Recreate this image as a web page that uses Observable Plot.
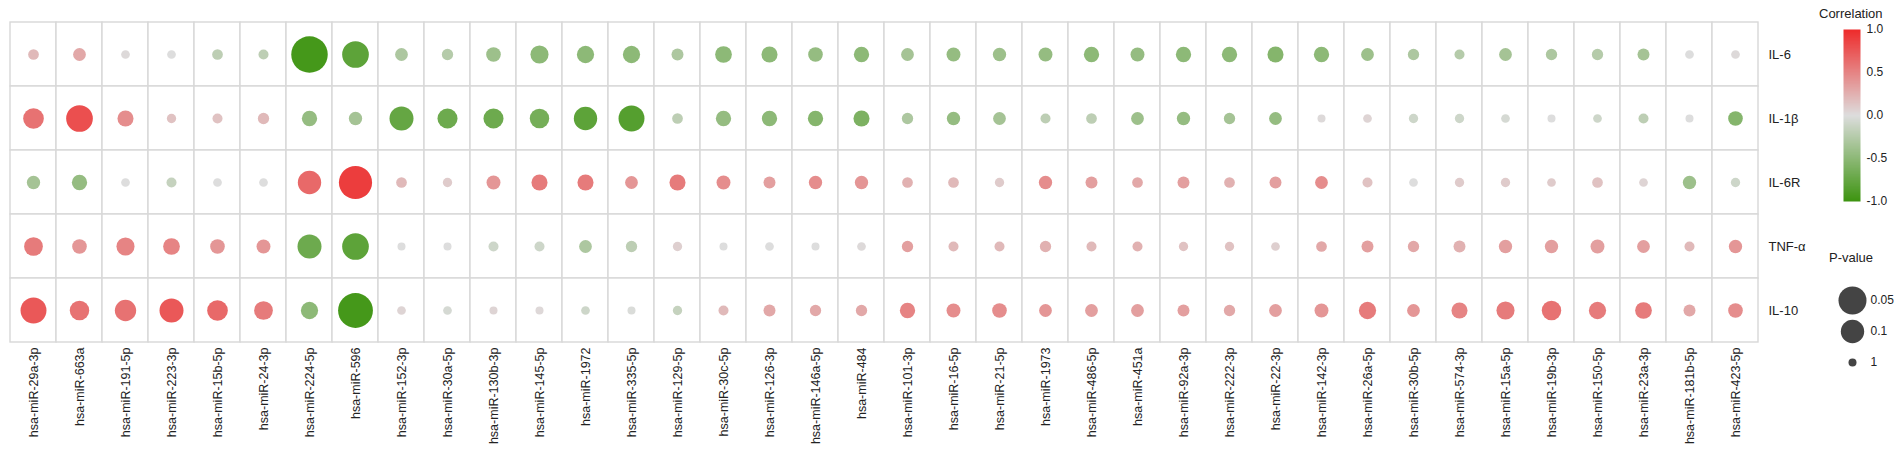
<!DOCTYPE html>
<html>
<head>
<meta charset="utf-8">
<script src="https://cdn.jsdelivr.net/npm/d3@7"></script>
<script src="https://cdn.jsdelivr.net/npm/@observablehq/plot@0.6"></script>
<style>
  html, body { margin: 0; padding: 0; background: #fff; }
  #wrap { position: relative; width: 1901px; height: 449px; overflow: hidden; font-family: "Liberation Sans", Arial, sans-serif; }
  #wrap > * { position: absolute; }
  #wrap svg { overflow: visible; }
  .ttl { font-size: 13px; color: #222; white-space: nowrap; }
</style>
</head>
<body>
<div id="wrap"></div>
<script>
const mirnas = ["hsa-miR-29a-3p","hsa-miR-663a","hsa-miR-191-5p","hsa-miR-223-3p","hsa-miR-15b-5p","hsa-miR-24-3p","hsa-miR-224-5p","hsa-miR-596","hsa-miR-152-3p","hsa-miR-30a-5p","hsa-miR-130b-3p","hsa-miR-145-5p","hsa-miR-1972","hsa-miR-335-5p","hsa-miR-129-5p","hsa-miR-30c-5p","hsa-miR-126-3p","hsa-miR-146a-5p","hsa-miR-484","hsa-miR-101-3p","hsa-miR-16-5p","hsa-miR-21-5p","hsa-miR-1973","hsa-miR-486-5p","hsa-miR-451a","hsa-miR-92a-3p","hsa-miR-222-3p","hsa-miR-22-3p","hsa-miR-142-3p","hsa-miR-26a-5p","hsa-miR-30b-5p","hsa-miR-574-3p","hsa-miR-15a-5p","hsa-miR-19b-3p","hsa-miR-150-5p","hsa-miR-23a-3p","hsa-miR-181b-5p","hsa-miR-423-5p"];
const cytokines = ["IL-6","IL-1β","IL-6R","TNF-α","IL-10"];

const corrIL6  = [0.2,0.3,0.02,0.0,-0.2,-0.2,-0.95,-0.8,-0.3,-0.25,-0.4,-0.5,-0.5,-0.5,-0.3,-0.5,-0.5,-0.45,-0.5,-0.35,-0.45,-0.4,-0.45,-0.5,-0.45,-0.5,-0.5,-0.55,-0.5,-0.4,-0.3,-0.25,-0.35,-0.3,-0.25,-0.35,0.0,0.02];
const pIL6     = [0.67,0.49,0.90,0.90,0.67,0.74,0.014,0.061,0.49,0.61,0.37,0.22,0.25,0.25,0.55,0.27,0.30,0.37,0.335,0.49,0.41,0.45,0.41,0.335,0.41,0.335,0.335,0.30,0.335,0.49,0.61,0.74,0.49,0.61,0.61,0.55,0.90,0.90];

const corrIL1b = [0.6,0.8,0.45,0.15,0.15,0.2,-0.45,-0.35,-0.75,-0.7,-0.7,-0.65,-0.8,-0.85,-0.2,-0.45,-0.5,-0.55,-0.6,-0.3,-0.45,-0.35,-0.2,-0.2,-0.4,-0.45,-0.35,-0.45,0.02,0.05,-0.1,-0.1,-0.05,0.0,-0.1,-0.2,0.0,-0.55];
const pIL1b    = [0.15,0.061,0.30,0.82,0.74,0.61,0.335,0.45,0.091,0.165,0.165,0.18,0.10,0.068,0.67,0.335,0.335,0.335,0.30,0.61,0.45,0.49,0.74,0.67,0.49,0.45,0.61,0.49,1,0.90,0.82,0.82,0.90,1,0.90,0.74,1,0.37];

const corrIL6R = [-0.35,-0.45,0.0,-0.15,0.0,0.0,0.65,0.9,0.2,0.1,0.4,0.55,0.55,0.4,0.55,0.45,0.35,0.45,0.4,0.25,0.2,0.1,0.45,0.35,0.3,0.35,0.25,0.35,0.45,0.15,0.0,0.1,0.1,0.1,0.15,0.05,-0.4,-0.1];
const pIL6R    = [0.45,0.335,0.90,0.74,0.90,0.90,0.10,0.023,0.67,0.82,0.41,0.30,0.30,0.49,0.30,0.41,0.55,0.45,0.45,0.67,0.67,0.82,0.45,0.55,0.67,0.55,0.67,0.55,0.49,0.74,0.90,0.82,0.82,0.90,0.67,0.90,0.45,0.82];

const corrTNFa = [0.55,0.4,0.5,0.5,0.4,0.4,-0.7,-0.8,0.0,0.0,-0.1,-0.1,-0.3,-0.2,0.08,0.0,0.0,0.0,0.02,0.35,0.2,0.2,0.25,0.2,0.25,0.15,0.15,0.08,0.3,0.35,0.3,0.25,0.35,0.35,0.35,0.35,0.2,0.4];
const pTNFa    = [0.20,0.37,0.22,0.27,0.37,0.41,0.091,0.061,1,1,0.74,0.74,0.49,0.61,0.82,1,0.90,1,0.90,0.61,0.74,0.74,0.61,0.74,0.74,0.82,0.82,0.90,0.67,0.55,0.61,0.55,0.45,0.45,0.41,0.49,0.74,0.45];

const corrIL10 = [0.75,0.6,0.6,0.75,0.65,0.55,-0.5,-0.95,0.05,-0.05,0.05,0.03,-0.1,-0.02,-0.15,0.2,0.3,0.3,0.3,0.5,0.45,0.45,0.4,0.35,0.35,0.35,0.3,0.35,0.4,0.55,0.4,0.5,0.55,0.6,0.55,0.55,0.3,0.45];
const pIL10    = [0.068,0.18,0.136,0.091,0.15,0.20,0.25,0.018,0.90,0.90,1,1,0.90,1,0.82,0.74,0.55,0.61,0.61,0.335,0.41,0.37,0.49,0.49,0.49,0.55,0.61,0.49,0.41,0.25,0.49,0.30,0.22,0.18,0.25,0.27,0.55,0.37];

const colorTicks = [-1, -0.5, 0, 0.5, 1];
const pLegend = [0.05, 0.1, 1];

const corrRows = [corrIL6, corrIL1b, corrIL6R, corrTNFa, corrIL10];
const pRows = [pIL6, pIL1b, pIL6R, pTNFa, pIL10];
const cells = [];
cytokines.forEach((c, i) => mirnas.forEach((m, j) => cells.push({mirna: m, cytokine: c, corr: corrRows[i][j], p: pRows[i][j]})));

const colorScale = {type: "linear", domain: [-1, 0, 1], range: ["#3d9410", "#dddddd", "#ee2b2b"], interpolate: "rgb"};
const rScale = {type: "log", domain: [1, 0.05], range: [4, 14]};
const font = {fontFamily: "'Liberation Sans', Arial, sans-serif", background: "transparent", color: "#222", overflow: "visible"};

const wrap = document.getElementById("wrap");

const main = Plot.plot({
  width: 1901, height: 449,
  marginLeft: 6, marginRight: 140, marginTop: 21, marginBottom: 107,
  style: {...font, fontSize: "12.5px"},
  x: {domain: mirnas, padding: 0, label: null, tickRotate: -90, tickSize: 0, tickPadding: 5},
  y: {domain: cytokines, padding: 0, label: null, axis: "right", tickSize: 0, tickPadding: 7},
  color: colorScale,
  r: rScale,
  marks: [
    Plot.cell(cells, {x: "mirna", y: "cytokine", fill: "white", stroke: "#d8d8d8", strokeWidth: 1.4}),
    Plot.dot(cells, {x: "mirna", y: "cytokine", r: "p", fill: "corr", stroke: "none"})
  ]
});
main.style.left = "0px"; main.style.top = "0px";
main.querySelectorAll("g[aria-label='y-axis tick label'] text").forEach(t => t.style.fontSize = "13px");
wrap.appendChild(main);

const title1 = document.createElement("div");
title1.className = "ttl"; title1.textContent = "Correlation";
title1.style.left = "1819px"; title1.style.top = "6px";
wrap.appendChild(title1);

const bar = Plot.plot({
  width: 56, height: 182,
  marginLeft: 0, marginRight: 39, marginTop: 5, marginBottom: 5,
  style: {...font, fontSize: "12px"},
  x: {domain: [0, 1], axis: null},
  y: {domain: [-1, 1], ticks: colorTicks, tickFormat: d => d.toFixed(1), axis: "right", tickSize: 0, tickPadding: 6, label: null},
  color: colorScale,
  marks: [
    Plot.raster({fill: (x, y) => y, x1: 0, x2: 1, y1: -1, y2: 1, width: 2, height: 200, imageRendering: "auto"})
  ]
});
bar.style.left = "1843px"; bar.style.top = "24px";
wrap.appendChild(bar);

const title2 = document.createElement("div");
title2.className = "ttl"; title2.textContent = "P-value";
title2.style.left = "1829px"; title2.style.top = "250px";
wrap.appendChild(title2);

const sizeLeg = Plot.plot({
  width: 80, height: 126,
  marginLeft: 0, marginRight: 0, marginTop: 16, marginBottom: 16,
  style: {...font, fontSize: "12px"},
  y: {type: "point", domain: pLegend.map(String), range: [16, 110], axis: null},
  r: rScale,
  marks: [
    Plot.dot(pLegend, {y: d => String(d), r: d => d, fill: "#444", frameAnchor: "middle"}),
    Plot.text(pLegend, {y: d => String(d), text: d => String(d), frameAnchor: "middle", dx: 18, textAnchor: "start", fill: "#222"})
  ]
});
sizeLeg.style.left = "1812px"; sizeLeg.style.top = "268px";
wrap.appendChild(sizeLeg);
</script>
</body>
</html>
